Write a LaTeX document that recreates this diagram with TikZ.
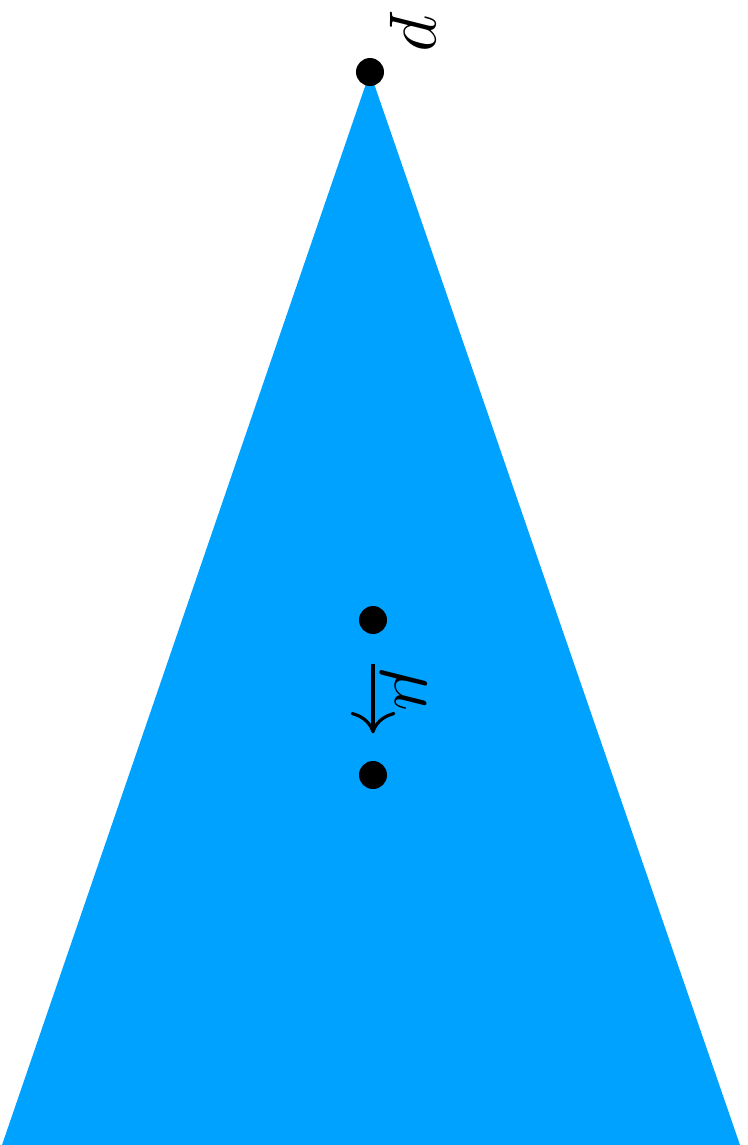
\documentclass[tikz,border=0pt]{standalone}
\usepackage{tikz}
\usetikzlibrary{arrows.meta,positioning}
\definecolor{coneblue}{RGB}{0,162,255}

\begin{document}
\begin{tikzpicture}[x=1cm,y=1cm, every node/.style={font=\fontsize{21pt}{25pt}\selectfont},
  dot/.style={circle,fill=black,inner sep=0pt,minimum size=0.28cm}]
  \useasboundingbox (0,0) rectangle (7.48,-11.45);
  \fill[coneblue] (3.70,-0.72)--(0.02,-11.45)--(7.40,-11.45)--cycle;
  \node[dot] (apex) at (3.70,-0.72) {};
  \node[dot] (top) at (3.73,-6.20) {};
  \node[dot] (bot) at (3.73,-7.75) {};
  \node[rotate=-90] (plabel) at (4.13,-0.32) {$p$};
  \draw[-{To[scale=1.7]},line width=0.9pt,shorten <=0.29cm,shorten >=0.27cm] (top)--(bot);
  \node[rotate=-90] (mulabel) at (4.04,-6.90) {$\mu$};
\end{tikzpicture}
\end{document}
